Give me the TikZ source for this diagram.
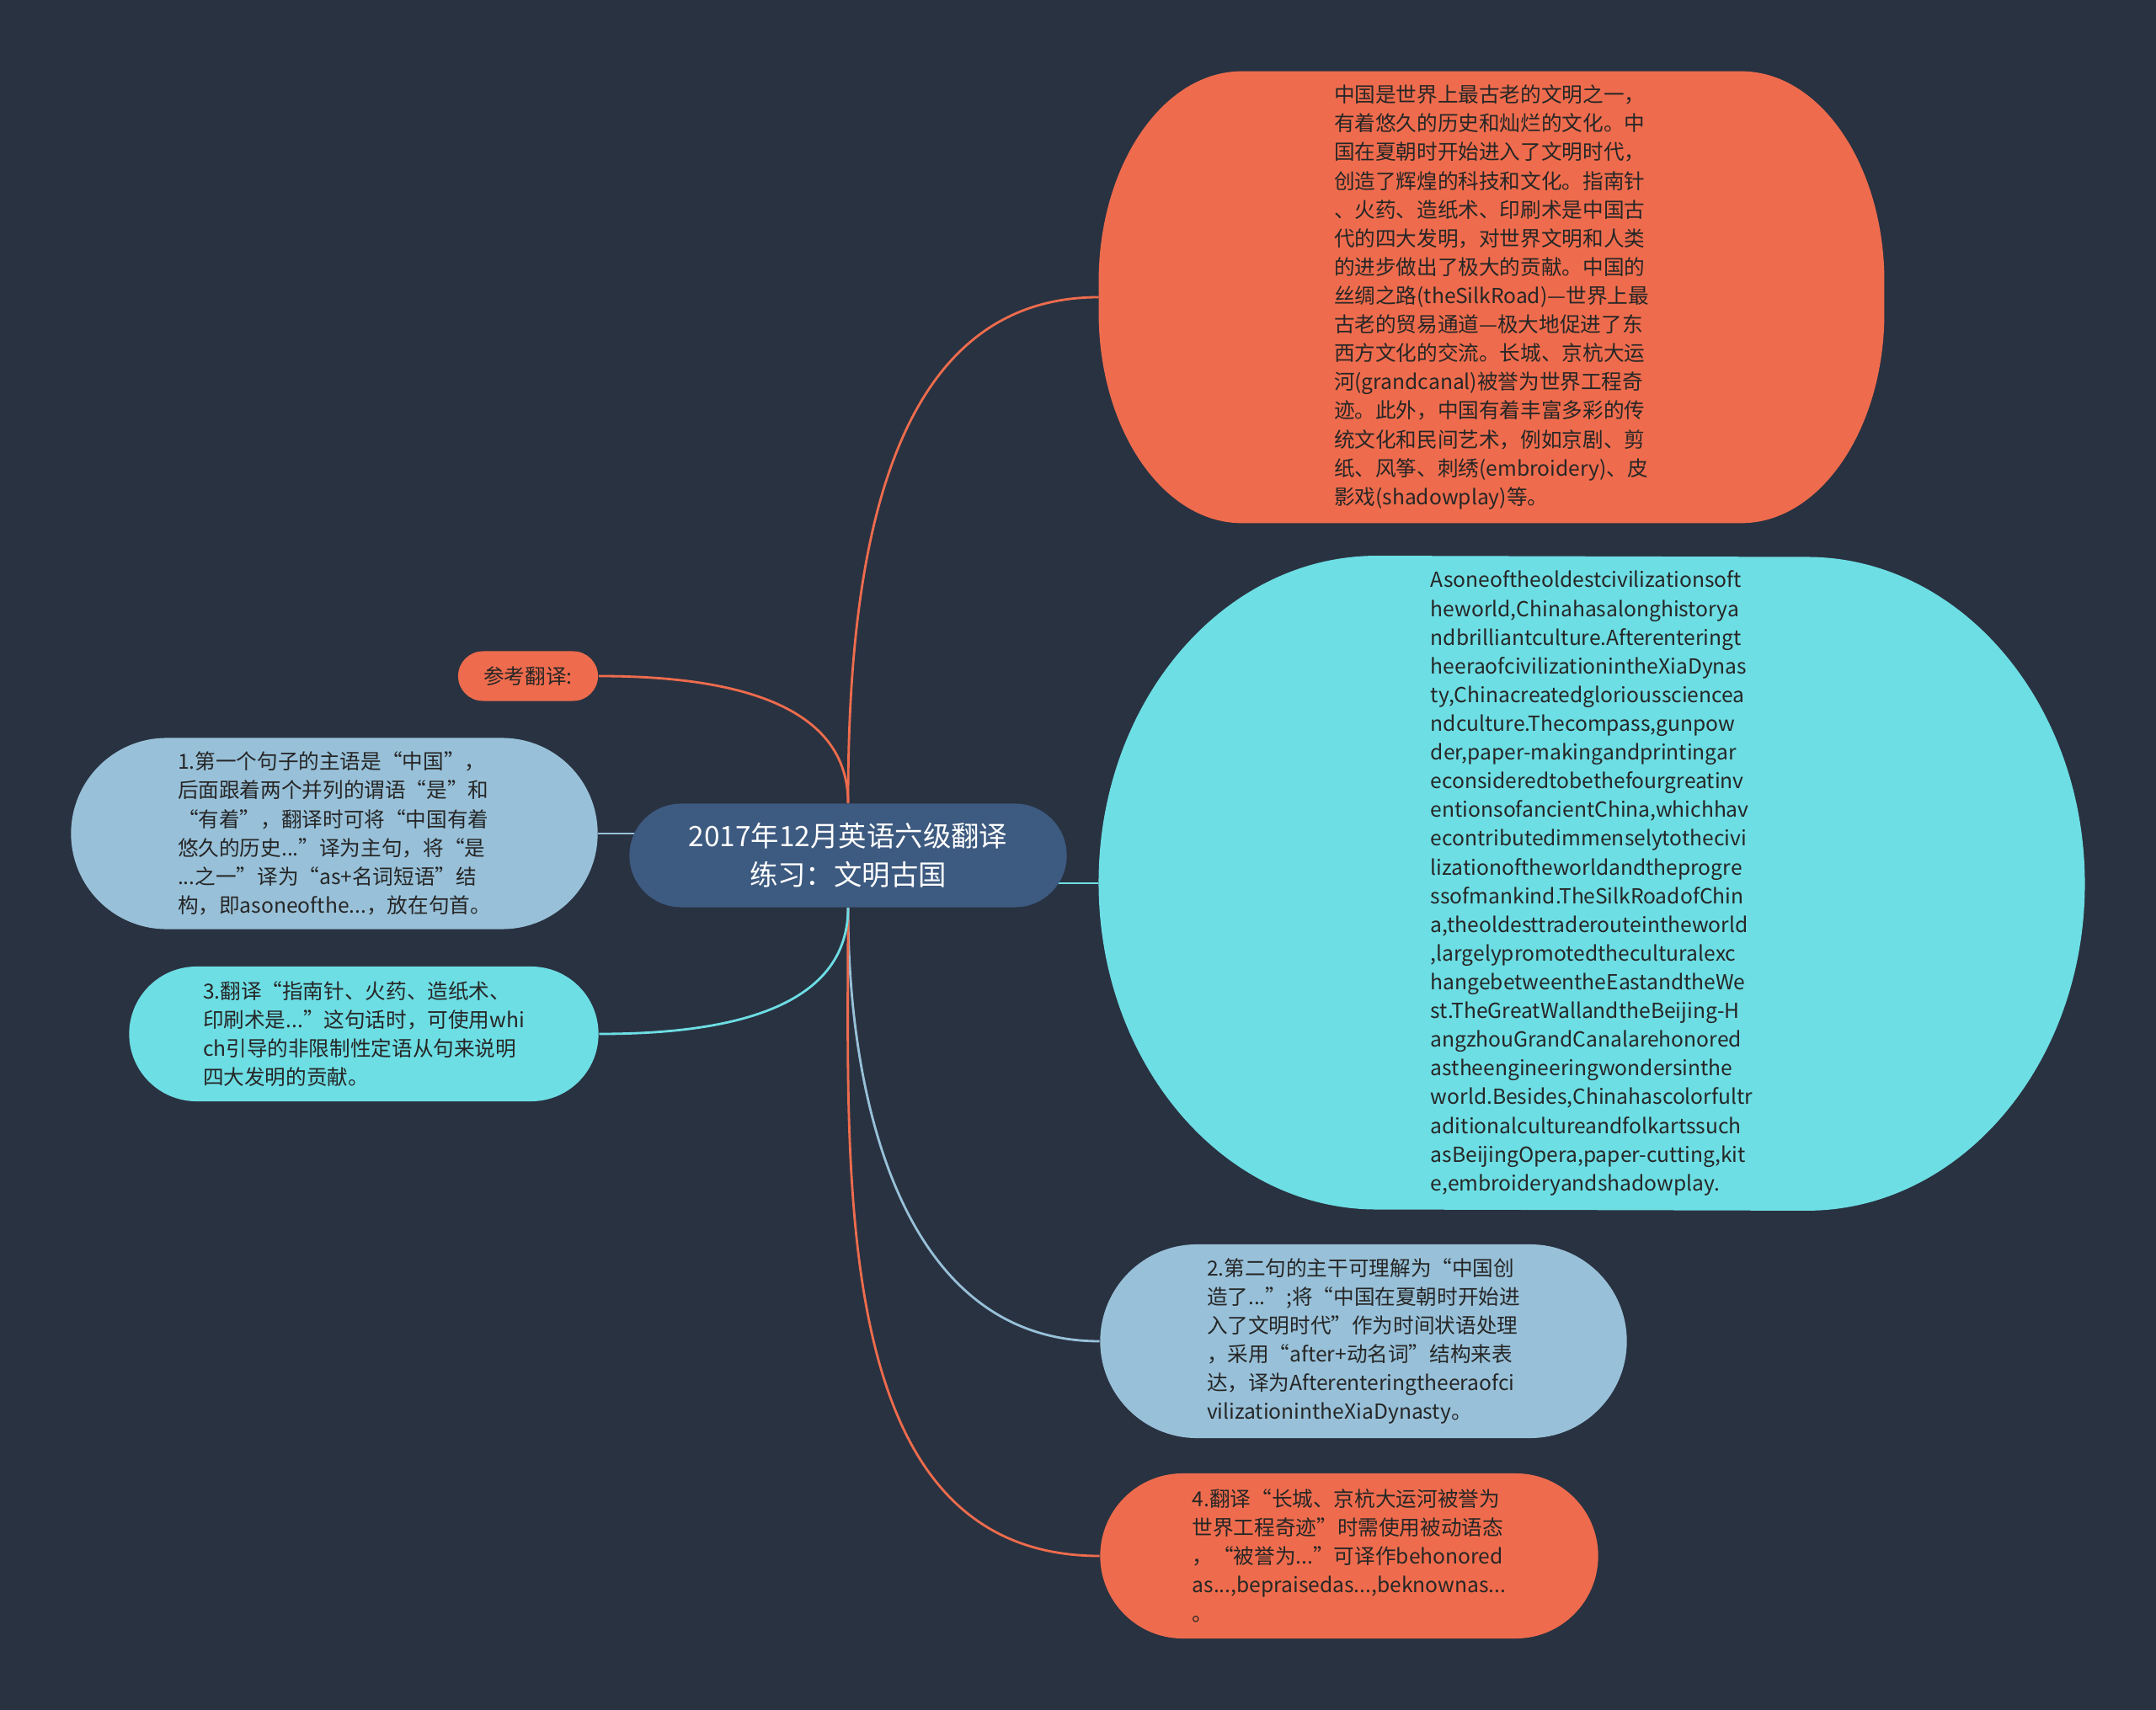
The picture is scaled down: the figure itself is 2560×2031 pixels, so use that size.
\documentclass[tikz,border=0pt]{standalone}
\usepackage{fontspec}
\setmainfont{Noto Sans CJK SC}
\usepackage{tikz}
\usetikzlibrary{shapes.misc,backgrounds}
\definecolor{bgc}{HTML}{293241}
\definecolor{hubc}{HTML}{3D5A80}
\definecolor{orc}{HTML}{EE6C4D}
\definecolor{cyc}{HTML}{6DDEE4}
\definecolor{blc}{HTML}{98C1D9}
\definecolor{ink}{HTML}{262626}
\tikzset{
  hub/.style={rounded rectangle, fill=hubc, text=white, align=center, inner sep=0pt, font=\fontsize{9.5pt}{13pt}\selectfont, minimum width=5.19cm, minimum height=1.23cm},
  pill/.style={rounded rectangle, align=left, text=ink, inner sep=0pt, font=\fontsize{7pt}{9.7pt}\selectfont},
  blob/.style={rectangle, align=left, text=ink, inner sep=0pt, font=\fontsize{7pt}{9.7pt}\selectfont},
  wire/.style={line width=0.8pt}
}

\begin{document}
\begin{tikzpicture}[x=0.01cm, y=-0.01cm]
\useasboundingbox (0,0) rectangle (2560,2031);
\node[hub] (root) at (1007,1016) {2017年12月英语六级翻译\\练习：文明古国};
\node[blob, minimum width=9.31cm, minimum height=5.35cm] (zh) at (1771,353) {中国是世界上最古老的文明之一，\\有着悠久的历史和灿烂的文化。中\\国在夏朝时开始进入了文明时代，\\创造了辉煌的科技和文化。指南针\\、火药、造纸术、印刷术是中国古\\代的四大发明，对世界文明和人类\\的进步做出了极大的贡献。中国的\\丝绸之路(theSilkRoad)—世界上最\\古老的贸易通道—极大地促进了东\\西方文化的交流。长城、京杭大运\\河(grandcanal)被誉为世界工程奇\\迹。此外，中国有着丰富多彩的传\\统文化和民间艺术，例如京剧、剪\\纸、风筝、刺绣(embroidery)、皮\\影戏(shadowplay)等。};
\node[blob, minimum width=11.69cm, minimum height=7.76cm] (en) at (1890,1049) {Asoneoftheoldestcivilizationsoft\\heworld,Chinahasalonghistorya\\ndbrilliantculture.Afterenteringt\\heeraofcivilizationintheXiaDynas\\ty,Chinacreatedglorioussciencea\\ndculture.Thecompass,gunpow\\der,paper-makingandprintingar\\econsideredtobethefourgreatinv\\entionsofancientChina,whichhav\\econtributedimmenselytothecivi\\lizationoftheworldandtheprogre\\ssofmankind.TheSilkRoadofChin\\a,theoldesttraderouteintheworld\\,largelypromotedtheculturalexc\\hangebetweentheEastandtheWe\\st.TheGreatWallandtheBeijing-H\\angzhouGrandCanalarehonored\\astheengineeringwondersinthe\\world.Besides,Chinahascolorfultr\\aditionalcultureandfolkartssuch\\asBeijingOpera,paper-cutting,kit\\e,embroideryandshadowplay.};
\node[pill, fill=blc, minimum width=6.25cm, minimum height=2.30cm] (tip2) at (1619,1593) {2.第二句的主干可理解为“中国创\\造了...”;将“中国在夏朝时开始进\\入了文明时代”作为时间状语处理\\，采用“after+动名词”结构来表\\达，译为Afterenteringtheeraofci\\vilizationintheXiaDynasty。};
\node[pill, fill=orc, minimum width=5.91cm, minimum height=1.96cm] (tip4) at (1602,1848) {4.翻译“长城、京杭大运河被誉为\\世界工程奇迹”时需使用被动语态\\，“被誉为...”可译作behonored\\as...,bepraisedas...,beknownas...\\。};
\node[pill, fill=orc, minimum width=1.66cm, minimum height=0.59cm] (ref) at (627,803) {参考翻译:};
\node[pill, fill=blc, minimum width=6.25cm, minimum height=2.27cm] (tip1) at (397,990) {1.第一个句子的主语是“中国”，\\后面跟着两个并列的谓语“是”和\\“有着”，翻译时可将“中国有着\\悠久的历史...”译为主句，将“是\\...之一”译为“as+名词短语”结\\构，即asoneofthe...，放在句首。};
\node[pill, fill=cyc, minimum width=5.57cm, minimum height=1.60cm] (tip3) at (432,1228) {3.翻译“指南针、火药、造纸术、\\印刷术是...”这句话时，可使用whi\\ch引导的非限制性定语从句来说明\\四大发明的贡献。};
\begin{pgfonlayer}{background}
\fill[bgc] (0,0) rectangle (2560,2031);
\begin{scope}[x=1cm, y=1cm]
\fill[orc] ([xshift=1.7cm]zh.north west)
  arc[start angle=90, end angle=180, x radius=1.7cm, y radius=2.5cm] -- ([yshift=2.5cm]zh.south west)
  arc[start angle=180, end angle=270, x radius=1.7cm, y radius=2.5cm] -- ([xshift=-1.7cm]zh.south east)
  arc[start angle=-90, end angle=0, x radius=1.7cm, y radius=2.5cm] -- ([yshift=-2.5cm]zh.north east)
  arc[start angle=0, end angle=90, x radius=1.7cm, y radius=2.5cm] -- cycle;
\fill[cyc] ([xshift=3.3cm]en.north west)
  arc[start angle=90, end angle=270, x radius=3.3cm, y radius=3.88cm] -- ([xshift=-3.3cm]en.south east)
  arc[start angle=-90, end angle=90, x radius=3.3cm, y radius=3.88cm] -- cycle;
\end{scope}
\draw[wire, orc] (root.north) to[out=90, in=180] (zh.west);
\draw[wire, cyc] (en.west) -- (en.west -| root.center);
\draw[wire, blc] (root.south) to[out=-90, in=180] (tip2.west);
\draw[wire, orc] (root.south) to[out=-90, in=180] (tip4.west);
\draw[wire, orc] (root.north) to[out=90, in=0] (ref.east);
\draw[wire, blc] (tip1.east) -- (tip1.east -| root.center);
\draw[wire, cyc] (root.south) to[out=-90, in=0] (tip3.east);
\end{pgfonlayer}
\end{tikzpicture}
\end{document}
